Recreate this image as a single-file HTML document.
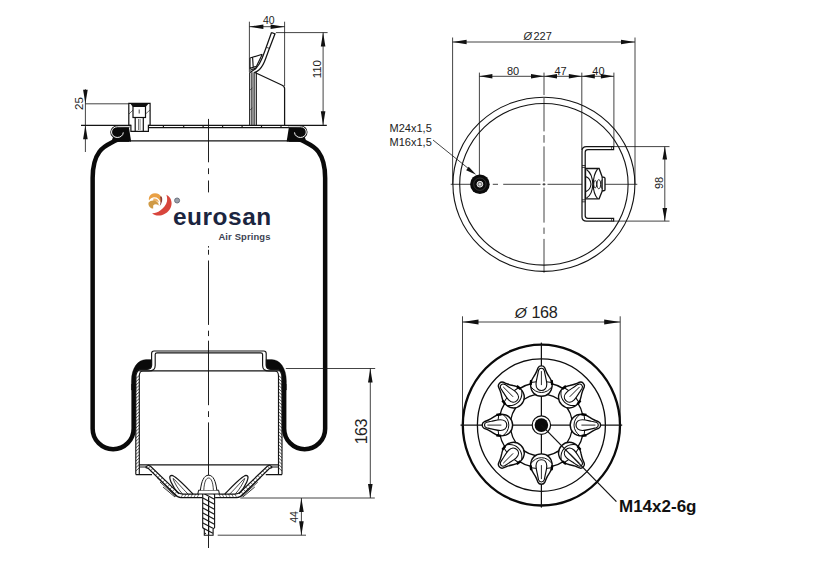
<!DOCTYPE html>
<html><head><meta charset="utf-8"><title>Air spring drawing</title>
<style>
html,body{margin:0;padding:0;background:#fff;}
svg{display:block;font-family:"Liberation Sans",sans-serif;}
</style></head><body>
<svg width="839" height="577" viewBox="0 0 839 577">
<rect width="839" height="577" fill="#fff"/>
<line x1="208.50" y1="118.90" x2="208.50" y2="162.30" stroke="#141414" stroke-width="0.95" />
<line x1="208.50" y1="168.30" x2="208.50" y2="174.10" stroke="#141414" stroke-width="0.95" />
<line x1="208.50" y1="180.50" x2="208.50" y2="192.40" stroke="#141414" stroke-width="0.95" />
<line x1="208.50" y1="246.10" x2="208.50" y2="247.60" stroke="#141414" stroke-width="0.95" />
<line x1="208.50" y1="249.80" x2="208.50" y2="254.70" stroke="#141414" stroke-width="0.95" />
<line x1="208.50" y1="260.50" x2="208.50" y2="324.90" stroke="#141414" stroke-width="0.95" />
<line x1="208.50" y1="330.70" x2="208.50" y2="336.10" stroke="#141414" stroke-width="0.95" />
<line x1="208.50" y1="340.70" x2="208.50" y2="405.20" stroke="#141414" stroke-width="0.95" />
<line x1="208.50" y1="411.20" x2="208.50" y2="417.00" stroke="#141414" stroke-width="0.95" />
<line x1="208.50" y1="422.40" x2="208.50" y2="548.00" stroke="#141414" stroke-width="0.95" />
<path d="M 129.00 139.6 L 122.00 139.6 C 119.00 139.6 117.00 139.3 114.70 140.9 C 109.60 144.6 92.65 146.5 92.65 178 L 92.65 428.65 A 20.5 20.5 0 0 0 133.65 428.65 L 133.65 384" stroke="#0a0a0a" stroke-width="4.5" fill="none" />
<path d="M 131.40 390 L 131.40 381 C 131.40 368 138.00 359.6 146.00 359.6 L 151.80 359.6 L 151.80 365.5 C 151.50 368.5 149.00 369.3 146.00 369.3 L 142.00 369.3 C 138.00 369.3 135.90 372 135.90 377 L 135.90 390 L 131.40 390 Z" stroke="#0a0a0a" stroke-width="0.3" fill="#0a0a0a" />
<path d="M 288.80 139.6 L 295.80 139.6 C 298.80 139.6 300.80 139.3 303.10 140.9 C 308.20 144.6 325.15 146.5 325.15 178 L 325.15 428.65 A 20.5 20.5 0 0 1 284.15 428.65 L 284.15 384" stroke="#0a0a0a" stroke-width="4.5" fill="none" />
<path d="M 286.40 390 L 286.40 381 C 286.40 368 279.80 359.6 271.80 359.6 L 266.00 359.6 L 266.00 365.5 C 266.30 368.5 268.80 369.3 271.80 369.3 L 275.80 369.3 C 279.80 369.3 281.90 372 281.90 377 L 281.90 390 L 286.40 390 Z" stroke="#0a0a0a" stroke-width="0.3" fill="#0a0a0a" />
<line x1="130.50" y1="140.90" x2="287.30" y2="140.90" stroke="#141414" stroke-width="1.35" />
<line x1="81.00" y1="125.30" x2="128.80" y2="125.30" stroke="#141414" stroke-width="1.15" />
<line x1="150.10" y1="125.30" x2="326.80" y2="125.30" stroke="#141414" stroke-width="1.25" />
<line x1="148.40" y1="127.60" x2="296.80" y2="127.60" stroke="#141414" stroke-width="1.15" />
<line x1="163.40" y1="125.30" x2="163.40" y2="127.60" stroke="#141414" stroke-width="1.15" />
<line x1="183.70" y1="125.30" x2="183.70" y2="127.60" stroke="#141414" stroke-width="1.15" />
<line x1="203.10" y1="125.30" x2="203.10" y2="127.60" stroke="#141414" stroke-width="1.15" />
<line x1="222.60" y1="125.30" x2="222.60" y2="127.60" stroke="#141414" stroke-width="1.15" />
<line x1="242.10" y1="125.30" x2="242.10" y2="127.60" stroke="#141414" stroke-width="1.15" />
<line x1="261.50" y1="125.30" x2="261.50" y2="127.60" stroke="#141414" stroke-width="1.15" />
<line x1="281.00" y1="125.30" x2="281.00" y2="127.60" stroke="#141414" stroke-width="1.15" />
<line x1="300.00" y1="125.30" x2="300.00" y2="127.60" stroke="#141414" stroke-width="1.15" />
<polygon points="117.00,126.6 128.90,127.2 131.00,140.5 131.00,141.7 111.50,141.7 113.00,137" fill="#0a0a0a"/>
<ellipse cx="117.40" cy="132.1" rx="6.2" ry="5.8" fill="#0a0a0a"/>
<path d="M 129.50 126.6 L 117.40 126.7 A 5.9 5.4 0 1 0 123.30 132.4" stroke="#111" stroke-width="2.5" fill="none" />
<path d="M 129.50 126.6 L 117.40 126.7 A 5.9 5.4 0 1 0 123.30 132.4" stroke="#fff" stroke-width="0.95" fill="none" />
<polygon points="300.80,126.6 288.90,127.2 286.80,140.5 286.80,141.7 306.30,141.7 304.80,137" fill="#0a0a0a"/>
<ellipse cx="300.40" cy="132.1" rx="6.2" ry="5.8" fill="#0a0a0a"/>
<path d="M 288.30 126.6 L 300.40 126.7 A 5.9 5.4 0 1 1 294.50 132.4" stroke="#111" stroke-width="2.5" fill="none" />
<path d="M 288.30 126.6 L 300.40 126.7 A 5.9 5.4 0 1 1 294.50 132.4" stroke="#fff" stroke-width="0.95" fill="none" />
<path d="M 128.8 125.4 L 128.8 103.4 L 150.1 103.4 L 150.1 125.4 L 148.4 125.4 L 148.4 131.3 L 130.9 131.3 L 130.9 125.4 Z" fill="#fff" stroke="#111" stroke-width="1.2"/>
<polygon points="130.2,103.4 148.8,103.4 146,106.6 132.6,106.6" fill="#111"/>
<rect x="133" y="106.4" width="12.5" height="11.1" fill="#fff" stroke="#111" stroke-width="1.2"/>
<line x1="135.20" y1="117.50" x2="135.20" y2="131.30" stroke="#111" stroke-width="1.2" />
<line x1="143.30" y1="117.50" x2="143.30" y2="131.30" stroke="#111" stroke-width="1.2" />
<line x1="139.20" y1="109.50" x2="139.20" y2="113.50" stroke="#141414" stroke-width="0.8" />
<line x1="138.70" y1="119.00" x2="138.70" y2="130.00" stroke="#666" stroke-width="1.15" />
<line x1="140.30" y1="119.00" x2="140.30" y2="130.00" stroke="#888" stroke-width="0.7" />
<line x1="129.00" y1="114.00" x2="133.00" y2="110.00" stroke="#141414" stroke-width="0.6" />
<line x1="145.50" y1="114.00" x2="150.00" y2="110.00" stroke="#141414" stroke-width="0.6" />
<line x1="128.80" y1="125.40" x2="131.00" y2="125.40" stroke="#141414" stroke-width="1.25" />
<line x1="148.40" y1="125.40" x2="150.10" y2="125.40" stroke="#141414" stroke-width="1.25" />
<line x1="249.70" y1="72.30" x2="249.70" y2="125.30" stroke="#141414" stroke-width="1.15" />
<line x1="251.90" y1="72.30" x2="251.90" y2="125.30" stroke="#141414" stroke-width="1.15" />
<line x1="254.10" y1="72.30" x2="254.10" y2="125.30" stroke="#141414" stroke-width="1.15" />
<line x1="256.30" y1="72.30" x2="256.30" y2="125.30" stroke="#141414" stroke-width="1.15" />
<line x1="250.00" y1="90.00" x2="252.40" y2="88.00" stroke="#141414" stroke-width="0.6" />
<line x1="250.00" y1="110.00" x2="252.40" y2="108.00" stroke="#141414" stroke-width="0.6" />
<path d="M 271.5 32.5 L 275 33.8 L 268.8 50 L 265.6 58.8 C 264 63.3 262 67 259.5 69.5 C 257.5 71.4 255.6 72.2 254.4 72.5 M 271.5 32.5 L 265.5 49.2 L 262.2 58 C 260.4 62.4 258.4 65.8 256 68.2 C 254 70.2 251.6 71 250 72.6" stroke="#141414" stroke-width="1.25" fill="none" />
<line x1="266.30" y1="47.30" x2="269.60" y2="48.40" stroke="#141414" stroke-width="0.8" />
<path d="M 250 58 L 262.3 54.3 M 250 58 L 250 68.4 L 256.8 66.2 M 252.6 57.4 L 253.2 67.3 M 262.3 54.3 L 256.5 66.2 M 250 70.3 L 256 68" stroke="#141414" stroke-width="1.15" fill="none" />
<path d="M 254.4 72.2 L 281.7 85 Q 284.6 86.3 284.6 88.5 L 284.6 125.3" stroke="#141414" stroke-width="1.25" fill="none" />
<line x1="249.40" y1="21.70" x2="249.40" y2="72.00" stroke="#141414" stroke-width="0.8" />
<line x1="284.60" y1="21.70" x2="284.60" y2="86.00" stroke="#141414" stroke-width="0.8" />
<line x1="249.40" y1="26.70" x2="284.60" y2="26.70" stroke="#141414" stroke-width="0.8" />
<polygon points="249.40,26.70 263.40,24.40 263.40,29.00" fill="#111"/>
<polygon points="284.60,26.70 270.60,29.00 270.60,24.40" fill="#111"/>
<text x="268.80" y="24.30" font-size="10.5" text-anchor="middle" font-weight="normal" fill="#222" >40</text>
<line x1="275.90" y1="32.60" x2="327.60" y2="32.60" stroke="#141414" stroke-width="0.8" />
<line x1="323.10" y1="32.60" x2="323.10" y2="125.30" stroke="#141414" stroke-width="0.8" />
<polygon points="323.10,32.60 325.40,46.60 320.80,46.60" fill="#111"/>
<polygon points="323.10,125.30 320.80,111.30 325.40,111.30" fill="#111"/>
<text x="321.00" y="69.20" font-size="11.5" text-anchor="middle" font-weight="normal" fill="#222" transform="rotate(-90 321.00 69.20)" >110</text>
<line x1="85.40" y1="103.80" x2="128.80" y2="103.80" stroke="#141414" stroke-width="0.8" />
<line x1="85.40" y1="89.20" x2="85.40" y2="125.30" stroke="#141414" stroke-width="0.8" />
<line x1="85.40" y1="125.30" x2="85.40" y2="152.00" stroke="#141414" stroke-width="0.8" />
<polygon points="85.40,103.80 83.10,89.80 87.70,89.80" fill="#111"/>
<polygon points="85.40,125.30 87.70,139.30 83.10,139.30" fill="#111"/>
<text x="82.80" y="103.50" font-size="11.5" text-anchor="middle" font-weight="normal" fill="#222" transform="rotate(-90 82.80 103.50)" >25</text>
<path d="M 135.80 474.6 L 135.80 378 C 135.80 372 138.00 369.3 142.00 369.3 L 147.00 369.3 C 150.50 369.3 151.60 368 151.60 365 L 151.60 353.5 Q 151.60 351 154.00 351 L 208.9 351" stroke="#141414" stroke-width="1.15" fill="none" />
<path d="M 139.30 474.6 L 139.30 376 C 139.30 372.5 140.50 371 143.00 371 L 149.00 371 C 153.50 371 155.20 369 155.20 365.5 L 155.20 354.5 Q 155.20 352.9 157.00 352.9 L 208.9 352.9" stroke="#141414" stroke-width="1.15" fill="none" />
<line x1="135.80" y1="378.60" x2="139.30" y2="375.40" stroke="#141414" stroke-width="0.7" />
<line x1="135.80" y1="381.90" x2="139.30" y2="378.70" stroke="#141414" stroke-width="0.7" />
<line x1="135.80" y1="385.20" x2="139.30" y2="382.00" stroke="#141414" stroke-width="0.7" />
<line x1="135.80" y1="388.50" x2="139.30" y2="385.30" stroke="#141414" stroke-width="0.7" />
<line x1="135.80" y1="391.80" x2="139.30" y2="388.60" stroke="#141414" stroke-width="0.7" />
<line x1="135.80" y1="395.10" x2="139.30" y2="391.90" stroke="#141414" stroke-width="0.7" />
<line x1="135.80" y1="398.40" x2="139.30" y2="395.20" stroke="#141414" stroke-width="0.7" />
<line x1="135.80" y1="401.70" x2="139.30" y2="398.50" stroke="#141414" stroke-width="0.7" />
<line x1="135.80" y1="405.00" x2="139.30" y2="401.80" stroke="#141414" stroke-width="0.7" />
<line x1="135.80" y1="408.30" x2="139.30" y2="405.10" stroke="#141414" stroke-width="0.7" />
<line x1="135.80" y1="411.60" x2="139.30" y2="408.40" stroke="#141414" stroke-width="0.7" />
<line x1="135.80" y1="414.90" x2="139.30" y2="411.70" stroke="#141414" stroke-width="0.7" />
<line x1="135.80" y1="418.20" x2="139.30" y2="415.00" stroke="#141414" stroke-width="0.7" />
<line x1="135.80" y1="421.50" x2="139.30" y2="418.30" stroke="#141414" stroke-width="0.7" />
<line x1="135.80" y1="424.80" x2="139.30" y2="421.60" stroke="#141414" stroke-width="0.7" />
<line x1="135.80" y1="428.10" x2="139.30" y2="424.90" stroke="#141414" stroke-width="0.7" />
<line x1="135.80" y1="431.40" x2="139.30" y2="428.20" stroke="#141414" stroke-width="0.7" />
<line x1="135.80" y1="434.70" x2="139.30" y2="431.50" stroke="#141414" stroke-width="0.7" />
<line x1="135.80" y1="438.00" x2="139.30" y2="434.80" stroke="#141414" stroke-width="0.7" />
<line x1="135.80" y1="441.30" x2="139.30" y2="438.10" stroke="#141414" stroke-width="0.7" />
<line x1="135.80" y1="444.60" x2="139.30" y2="441.40" stroke="#141414" stroke-width="0.7" />
<line x1="135.80" y1="447.90" x2="139.30" y2="444.70" stroke="#141414" stroke-width="0.7" />
<line x1="135.80" y1="451.20" x2="139.30" y2="448.00" stroke="#141414" stroke-width="0.7" />
<line x1="135.80" y1="454.50" x2="139.30" y2="451.30" stroke="#141414" stroke-width="0.7" />
<line x1="135.80" y1="457.80" x2="139.30" y2="454.60" stroke="#141414" stroke-width="0.7" />
<line x1="135.80" y1="461.10" x2="139.30" y2="457.90" stroke="#141414" stroke-width="0.7" />
<line x1="135.80" y1="464.40" x2="139.30" y2="461.20" stroke="#141414" stroke-width="0.7" />
<line x1="135.80" y1="467.70" x2="139.30" y2="464.50" stroke="#141414" stroke-width="0.7" />
<line x1="135.80" y1="471.00" x2="139.30" y2="467.80" stroke="#141414" stroke-width="0.7" />
<path d="M 135.80 474.6 L 152.00 474.6 M 139.30 467 L 145.50 467 L 148.00 465.6" stroke="#141414" stroke-width="1.15" fill="none" />
<path d="M 148.00 465.2 L 150.50 466.2 L 177.00 491.6 Q 179.50 494 183.00 494 L 199.00 494" stroke="#141414" stroke-width="1.25" fill="none" />
<path d="M 145.50 467.3 L 148.20 468.3 L 174.50 494 Q 177.50 497.6 181.00 497.6 L 202.70 497.6" stroke="#141414" stroke-width="1.25" fill="none" />
<line x1="150.50" y1="466.20" x2="148.10" y2="468.40" stroke="#141414" stroke-width="0.6" />
<line x1="152.91" y1="468.51" x2="150.51" y2="470.71" stroke="#141414" stroke-width="0.6" />
<line x1="155.32" y1="470.82" x2="152.92" y2="473.02" stroke="#141414" stroke-width="0.6" />
<line x1="157.73" y1="473.13" x2="155.33" y2="475.33" stroke="#141414" stroke-width="0.6" />
<line x1="160.14" y1="475.44" x2="157.74" y2="477.64" stroke="#141414" stroke-width="0.6" />
<line x1="162.55" y1="477.75" x2="160.15" y2="479.95" stroke="#141414" stroke-width="0.6" />
<line x1="164.95" y1="480.05" x2="162.55" y2="482.25" stroke="#141414" stroke-width="0.6" />
<line x1="167.36" y1="482.36" x2="164.96" y2="484.56" stroke="#141414" stroke-width="0.6" />
<line x1="169.77" y1="484.67" x2="167.37" y2="486.87" stroke="#141414" stroke-width="0.6" />
<line x1="172.18" y1="486.98" x2="169.78" y2="489.18" stroke="#141414" stroke-width="0.6" />
<line x1="174.59" y1="489.29" x2="172.19" y2="491.49" stroke="#141414" stroke-width="0.6" />
<line x1="177.00" y1="491.60" x2="174.60" y2="493.80" stroke="#141414" stroke-width="0.6" />
<line x1="183.00" y1="494.00" x2="181.00" y2="497.60" stroke="#141414" stroke-width="0.6" />
<line x1="186.20" y1="494.00" x2="184.20" y2="497.60" stroke="#141414" stroke-width="0.6" />
<line x1="189.40" y1="494.00" x2="187.40" y2="497.60" stroke="#141414" stroke-width="0.6" />
<line x1="192.60" y1="494.00" x2="190.60" y2="497.60" stroke="#141414" stroke-width="0.6" />
<line x1="195.80" y1="494.00" x2="193.80" y2="497.60" stroke="#141414" stroke-width="0.6" />
<line x1="199.00" y1="494.00" x2="197.00" y2="497.60" stroke="#141414" stroke-width="0.6" />
<path d="M 160.00 482 L 176.00 496.5 M 163.00 487 L 175.00 497 M 157.00 477.5 L 176.50 495.5" stroke="#141414" stroke-width="0.85" fill="none" />
<path d="M 193.00 494 C 186.00 487 176.00 476 171.80 475.4 C 169.00 475.4 169.50 478.5 171.00 482 C 173.00 486.5 176.00 491 178.80 493.8" stroke="#141414" stroke-width="1.25" fill="none" />
<path d="M 188.00 494 C 182.00 488 176.00 481 173.30 478.3 M 173.00 478.5 C 174.50 483 178.00 489 182.30 493.8" stroke="#141414" stroke-width="0.8" fill="none" />
<path d="M 282.00 474.6 L 282.00 378 C 282.00 372 279.80 369.3 275.80 369.3 L 270.80 369.3 C 267.30 369.3 266.20 368 266.20 365 L 266.20 353.5 Q 266.20 351 263.80 351 L 208.9 351" stroke="#141414" stroke-width="1.15" fill="none" />
<path d="M 278.50 474.6 L 278.50 376 C 278.50 372.5 277.30 371 274.80 371 L 268.80 371 C 264.30 371 262.60 369 262.60 365.5 L 262.60 354.5 Q 262.60 352.9 260.80 352.9 L 208.9 352.9" stroke="#141414" stroke-width="1.15" fill="none" />
<line x1="282.00" y1="378.60" x2="278.50" y2="375.40" stroke="#141414" stroke-width="0.7" />
<line x1="282.00" y1="381.90" x2="278.50" y2="378.70" stroke="#141414" stroke-width="0.7" />
<line x1="282.00" y1="385.20" x2="278.50" y2="382.00" stroke="#141414" stroke-width="0.7" />
<line x1="282.00" y1="388.50" x2="278.50" y2="385.30" stroke="#141414" stroke-width="0.7" />
<line x1="282.00" y1="391.80" x2="278.50" y2="388.60" stroke="#141414" stroke-width="0.7" />
<line x1="282.00" y1="395.10" x2="278.50" y2="391.90" stroke="#141414" stroke-width="0.7" />
<line x1="282.00" y1="398.40" x2="278.50" y2="395.20" stroke="#141414" stroke-width="0.7" />
<line x1="282.00" y1="401.70" x2="278.50" y2="398.50" stroke="#141414" stroke-width="0.7" />
<line x1="282.00" y1="405.00" x2="278.50" y2="401.80" stroke="#141414" stroke-width="0.7" />
<line x1="282.00" y1="408.30" x2="278.50" y2="405.10" stroke="#141414" stroke-width="0.7" />
<line x1="282.00" y1="411.60" x2="278.50" y2="408.40" stroke="#141414" stroke-width="0.7" />
<line x1="282.00" y1="414.90" x2="278.50" y2="411.70" stroke="#141414" stroke-width="0.7" />
<line x1="282.00" y1="418.20" x2="278.50" y2="415.00" stroke="#141414" stroke-width="0.7" />
<line x1="282.00" y1="421.50" x2="278.50" y2="418.30" stroke="#141414" stroke-width="0.7" />
<line x1="282.00" y1="424.80" x2="278.50" y2="421.60" stroke="#141414" stroke-width="0.7" />
<line x1="282.00" y1="428.10" x2="278.50" y2="424.90" stroke="#141414" stroke-width="0.7" />
<line x1="282.00" y1="431.40" x2="278.50" y2="428.20" stroke="#141414" stroke-width="0.7" />
<line x1="282.00" y1="434.70" x2="278.50" y2="431.50" stroke="#141414" stroke-width="0.7" />
<line x1="282.00" y1="438.00" x2="278.50" y2="434.80" stroke="#141414" stroke-width="0.7" />
<line x1="282.00" y1="441.30" x2="278.50" y2="438.10" stroke="#141414" stroke-width="0.7" />
<line x1="282.00" y1="444.60" x2="278.50" y2="441.40" stroke="#141414" stroke-width="0.7" />
<line x1="282.00" y1="447.90" x2="278.50" y2="444.70" stroke="#141414" stroke-width="0.7" />
<line x1="282.00" y1="451.20" x2="278.50" y2="448.00" stroke="#141414" stroke-width="0.7" />
<line x1="282.00" y1="454.50" x2="278.50" y2="451.30" stroke="#141414" stroke-width="0.7" />
<line x1="282.00" y1="457.80" x2="278.50" y2="454.60" stroke="#141414" stroke-width="0.7" />
<line x1="282.00" y1="461.10" x2="278.50" y2="457.90" stroke="#141414" stroke-width="0.7" />
<line x1="282.00" y1="464.40" x2="278.50" y2="461.20" stroke="#141414" stroke-width="0.7" />
<line x1="282.00" y1="467.70" x2="278.50" y2="464.50" stroke="#141414" stroke-width="0.7" />
<line x1="282.00" y1="471.00" x2="278.50" y2="467.80" stroke="#141414" stroke-width="0.7" />
<path d="M 282.00 474.6 L 265.80 474.6 M 278.50 467 L 272.30 467 L 269.80 465.6" stroke="#141414" stroke-width="1.15" fill="none" />
<path d="M 269.80 465.2 L 267.30 466.2 L 240.80 491.6 Q 238.30 494 234.80 494 L 218.80 494" stroke="#141414" stroke-width="1.25" fill="none" />
<path d="M 272.30 467.3 L 269.60 468.3 L 243.30 494 Q 240.30 497.6 236.80 497.6 L 215.10 497.6" stroke="#141414" stroke-width="1.25" fill="none" />
<line x1="267.30" y1="466.20" x2="269.70" y2="468.40" stroke="#141414" stroke-width="0.6" />
<line x1="264.89" y1="468.51" x2="267.29" y2="470.71" stroke="#141414" stroke-width="0.6" />
<line x1="262.48" y1="470.82" x2="264.88" y2="473.02" stroke="#141414" stroke-width="0.6" />
<line x1="260.07" y1="473.13" x2="262.47" y2="475.33" stroke="#141414" stroke-width="0.6" />
<line x1="257.66" y1="475.44" x2="260.06" y2="477.64" stroke="#141414" stroke-width="0.6" />
<line x1="255.25" y1="477.75" x2="257.65" y2="479.95" stroke="#141414" stroke-width="0.6" />
<line x1="252.85" y1="480.05" x2="255.25" y2="482.25" stroke="#141414" stroke-width="0.6" />
<line x1="250.44" y1="482.36" x2="252.84" y2="484.56" stroke="#141414" stroke-width="0.6" />
<line x1="248.03" y1="484.67" x2="250.43" y2="486.87" stroke="#141414" stroke-width="0.6" />
<line x1="245.62" y1="486.98" x2="248.02" y2="489.18" stroke="#141414" stroke-width="0.6" />
<line x1="243.21" y1="489.29" x2="245.61" y2="491.49" stroke="#141414" stroke-width="0.6" />
<line x1="240.80" y1="491.60" x2="243.20" y2="493.80" stroke="#141414" stroke-width="0.6" />
<line x1="234.80" y1="494.00" x2="236.80" y2="497.60" stroke="#141414" stroke-width="0.6" />
<line x1="231.60" y1="494.00" x2="233.60" y2="497.60" stroke="#141414" stroke-width="0.6" />
<line x1="228.40" y1="494.00" x2="230.40" y2="497.60" stroke="#141414" stroke-width="0.6" />
<line x1="225.20" y1="494.00" x2="227.20" y2="497.60" stroke="#141414" stroke-width="0.6" />
<line x1="222.00" y1="494.00" x2="224.00" y2="497.60" stroke="#141414" stroke-width="0.6" />
<line x1="218.80" y1="494.00" x2="220.80" y2="497.60" stroke="#141414" stroke-width="0.6" />
<path d="M 257.80 482 L 241.80 496.5 M 254.80 487 L 242.80 497 M 260.80 477.5 L 241.30 495.5" stroke="#141414" stroke-width="0.85" fill="none" />
<path d="M 224.80 494 C 231.80 487 241.80 476 246.00 475.4 C 248.80 475.4 248.30 478.5 246.80 482 C 244.80 486.5 241.80 491 239.00 493.8" stroke="#141414" stroke-width="1.25" fill="none" />
<path d="M 229.80 494 C 235.80 488 241.80 481 244.50 478.3 M 244.80 478.5 C 243.30 483 239.80 489 235.50 493.8" stroke="#141414" stroke-width="0.8" fill="none" />
<line x1="139.30" y1="464.80" x2="278.50" y2="464.80" stroke="#141414" stroke-width="1.15" />
<line x1="139.30" y1="370.90" x2="278.50" y2="370.90" stroke="#141414" stroke-width="1.15" />
<path d="M 202.7 492.4 L 202.7 527.6 L 204.3 529 L 204.3 535.2 L 213.1 535.2 L 213.1 529 L 214.6 527.6 L 214.6 492.4 Z" fill="#fff" stroke="#111" stroke-width="1.1"/>
<line x1="212.34" y1="493.00" x2="214.40" y2="494.30" stroke="#1a1a1a" stroke-width="1.25" />
<line x1="202.90" y1="493.00" x2="214.40" y2="499.30" stroke="#1a1a1a" stroke-width="1.25" />
<line x1="202.90" y1="498.00" x2="214.40" y2="504.30" stroke="#1a1a1a" stroke-width="1.25" />
<line x1="202.90" y1="503.00" x2="214.40" y2="509.30" stroke="#1a1a1a" stroke-width="1.25" />
<line x1="202.90" y1="508.00" x2="214.40" y2="514.30" stroke="#1a1a1a" stroke-width="1.25" />
<line x1="202.90" y1="513.00" x2="214.40" y2="519.30" stroke="#1a1a1a" stroke-width="1.25" />
<line x1="202.90" y1="518.00" x2="214.40" y2="524.30" stroke="#1a1a1a" stroke-width="1.25" />
<line x1="202.90" y1="523.00" x2="212.90" y2="528.29" stroke="#1a1a1a" stroke-width="1.25" />
<line x1="202.90" y1="528.00" x2="212.90" y2="533.29" stroke="#1a1a1a" stroke-width="1.25" />
<line x1="204.50" y1="533.00" x2="205.90" y2="533.74" stroke="#1a1a1a" stroke-width="1.25" />
<line x1="208.60" y1="497.00" x2="208.60" y2="535.00" stroke="#111" stroke-width="1.25" />
<path d="M 197.8 494 L 198.6 490.2 L 218.6 490.2 L 219.4 494 Z" fill="#fff" stroke="#111" stroke-width="1.0"/>
<path d="M 200.4 490.2 C 201.5 481 204 475.2 208.6 475.2 C 213.2 475.2 215.8 481 216.8 490.2" fill="#fff" stroke="#111" stroke-width="1.0"/>
<path d="M 203.8 490.2 C 204.2 482 206 478 208.6 478 C 211.2 478 213 482 213.4 490.2" stroke="#141414" stroke-width="0.8" fill="none" />
<line x1="285.80" y1="368.50" x2="375.20" y2="368.50" stroke="#141414" stroke-width="0.8" />
<line x1="240.30" y1="498.00" x2="374.80" y2="498.00" stroke="#141414" stroke-width="0.8" />
<line x1="370.30" y1="368.50" x2="370.30" y2="498.00" stroke="#141414" stroke-width="0.8" />
<polygon points="370.30,368.50 372.60,382.50 368.00,382.50" fill="#111"/>
<polygon points="370.30,498.00 368.00,484.00 372.60,484.00" fill="#111"/>
<text x="367.50" y="431.70" font-size="16" text-anchor="middle" font-weight="normal" fill="#222" transform="rotate(-90 367.50 431.70)" letter-spacing="-0.5" >163</text>
<line x1="217.70" y1="535.20" x2="306.00" y2="535.20" stroke="#141414" stroke-width="0.8" />
<line x1="301.40" y1="498.00" x2="301.40" y2="535.20" stroke="#141414" stroke-width="0.8" />
<polygon points="301.40,498.00 303.70,512.00 299.10,512.00" fill="#111"/>
<polygon points="301.40,535.20 299.10,521.20 303.70,521.20" fill="#111"/>
<text x="298.30" y="517.00" font-size="10.5" text-anchor="middle" font-weight="normal" fill="#222" transform="rotate(-90 298.30 517.00)" >44</text>
<g id="logo"><path d="M 151 194.4 C 155 192.2 160 193.6 161.6 197.6 C 162.2 199.6 161.6 201.4 160.4 202.2 C 159.8 198.8 156.6 196.6 153 197.4 C 151 197.9 149.6 199.2 149 200.6 C 148.4 198.2 149.2 195.6 151 194.4 Z" fill="#e9a044"/><path d="M 153.4 198.6 C 156.2 198 158.6 199.8 159 202.4 C 157.4 201.2 155 201 153.2 201.6 Z" fill="#eeb368"/><path d="M 148.6 202.4 C 150.2 200.4 153.6 199.8 156.2 201.2 C 158.2 202.3 159 204 158.6 205.6 C 157 204 154.6 204 153.2 205.4 L 153.2 208.6 C 149.8 208.2 147.8 205.2 148.6 202.4 Z" fill="#cf9a45"/><path d="M 161.6 196.4 C 163 199.4 162.2 203 159.6 206.2 C 160.8 203.2 161 199.6 160 196.8 Z" fill="#8c3b3b"/><path d="M 166.4 194.8 C 169.6 196.4 171.8 199.8 171.6 203.8 C 171.2 209.4 167 213.8 161.6 215.2 C 157.8 216 154.2 215.2 152 213.2 C 154.6 213.4 157.6 212.6 160.2 210.6 C 163.6 208 166.4 204.8 167 201.2 C 167.4 198.8 167 196.6 166.4 194.8 Z" fill="#d8453c"/><circle cx="177.1" cy="200.5" r="2.5" fill="#9aa0aa" stroke="#6b7280" stroke-width="1.0"/></g>
<text x="173.00" y="225.40" font-size="24.4" text-anchor="start" font-weight="bold" fill="#1b2540" letter-spacing="0.55" >eurosan</text>
<text x="270.60" y="240.10" font-size="9.4" text-anchor="end" font-weight="bold" fill="#3b4252" letter-spacing="0.15" >Air Springs</text>
<ellipse cx="543.9" cy="184.3" rx="91.0" ry="87.1" fill="none" stroke="#141414" stroke-width="1.1"/>
<ellipse cx="543.9" cy="184.3" rx="84.2" ry="80.8" fill="none" stroke="#141414" stroke-width="1.1"/>
<line x1="450.70" y1="184.30" x2="470.00" y2="184.30" stroke="#141414" stroke-width="0.8" />
<line x1="492.80" y1="184.30" x2="498.00" y2="184.30" stroke="#141414" stroke-width="0.8" />
<line x1="503.20" y1="184.30" x2="540.50" y2="184.30" stroke="#141414" stroke-width="0.8" />
<line x1="542.50" y1="184.30" x2="545.50" y2="184.30" stroke="#141414" stroke-width="0.8" />
<line x1="547.50" y1="184.30" x2="637.30" y2="184.30" stroke="#141414" stroke-width="0.8" />
<line x1="544.00" y1="72.60" x2="544.00" y2="95.10" stroke="#141414" stroke-width="0.8" />
<line x1="544.00" y1="98.00" x2="544.00" y2="131.40" stroke="#141414" stroke-width="0.8" />
<line x1="544.00" y1="135.10" x2="544.00" y2="142.70" stroke="#141414" stroke-width="0.8" />
<line x1="544.00" y1="146.40" x2="544.00" y2="181.50" stroke="#141414" stroke-width="0.8" />
<line x1="544.00" y1="183.00" x2="544.00" y2="185.60" stroke="#141414" stroke-width="0.8" />
<line x1="544.00" y1="187.60" x2="544.00" y2="222.60" stroke="#141414" stroke-width="0.8" />
<line x1="544.00" y1="227.60" x2="544.00" y2="233.90" stroke="#141414" stroke-width="0.8" />
<line x1="544.00" y1="238.90" x2="544.00" y2="272.70" stroke="#141414" stroke-width="0.8" />
<line x1="452.60" y1="37.50" x2="452.60" y2="184.30" stroke="#141414" stroke-width="0.8" />
<line x1="635.00" y1="37.50" x2="635.00" y2="184.30" stroke="#141414" stroke-width="0.8" />
<line x1="452.60" y1="42.00" x2="635.00" y2="42.00" stroke="#141414" stroke-width="0.8" />
<polygon points="452.60,42.00 466.60,39.70 466.60,44.30" fill="#111"/>
<polygon points="635.00,42.00 621.00,44.30 621.00,39.70" fill="#111"/>
<text x="523.60" y="40.00" font-size="11" text-anchor="start" font-weight="normal" fill="#222" font-style="italic">Ø</text>
<text x="533.40" y="40.00" font-size="11" text-anchor="start" font-weight="normal" fill="#222" >227</text>
<line x1="479.40" y1="72.60" x2="479.40" y2="175.00" stroke="#141414" stroke-width="0.8" />
<line x1="581.80" y1="72.60" x2="581.80" y2="150.00" stroke="#141414" stroke-width="0.8" />
<line x1="613.90" y1="72.60" x2="613.90" y2="146.40" stroke="#141414" stroke-width="0.8" />
<line x1="479.40" y1="76.30" x2="613.90" y2="76.30" stroke="#141414" stroke-width="0.8" />
<polygon points="479.40,76.30 492.40,74.00 492.40,78.60" fill="#111"/>
<polygon points="544.00,76.30 531.00,78.60 531.00,74.00" fill="#111"/>
<polygon points="544.00,76.30 557.00,74.00 557.00,78.60" fill="#111"/>
<polygon points="581.80,76.30 568.80,78.60 568.80,74.00" fill="#111"/>
<polygon points="581.80,76.30 594.80,74.00 594.80,78.60" fill="#111"/>
<polygon points="613.90,76.30 600.90,78.60 600.90,74.00" fill="#111"/>
<text x="513.00" y="74.60" font-size="11" text-anchor="middle" font-weight="normal" fill="#222" >80</text>
<text x="560.60" y="74.60" font-size="11" text-anchor="middle" font-weight="normal" fill="#222" >47</text>
<text x="598.40" y="74.60" font-size="11" text-anchor="middle" font-weight="normal" fill="#222" >40</text>
<line x1="613.50" y1="146.60" x2="669.50" y2="146.60" stroke="#141414" stroke-width="0.8" />
<line x1="613.50" y1="221.10" x2="669.50" y2="221.10" stroke="#141414" stroke-width="0.8" />
<line x1="664.80" y1="146.60" x2="664.80" y2="221.10" stroke="#141414" stroke-width="0.8" />
<polygon points="664.80,146.60 667.10,159.60 662.50,159.60" fill="#111"/>
<polygon points="664.80,221.10 662.50,208.10 667.10,208.10" fill="#111"/>
<text x="663.10" y="182.90" font-size="11" text-anchor="middle" font-weight="normal" fill="#222" transform="rotate(-90 663.10 182.90)" >98</text>
<text x="389.60" y="132.10" font-size="11" text-anchor="start" font-weight="normal" fill="#222" >M24x1,5</text>
<text x="389.60" y="146.40" font-size="11" text-anchor="start" font-weight="normal" fill="#222" >M16x1,5</text>
<line x1="433.00" y1="140.00" x2="470.00" y2="169.80" stroke="#141414" stroke-width="0.8" />
<polygon points="476.20,174.80 466.12,170.30 468.68,166.71" fill="#111"/>
<circle cx="479.9" cy="184.2" r="9.8" fill="#0a0a0a"/>
<circle cx="479.9" cy="184.2" r="6.2" fill="none" stroke="#444" stroke-width="0.7"/>
<circle cx="479.9" cy="184.2" r="2.9" fill="#777" stroke="#e8e8e8" stroke-width="1.0"/>
<circle cx="479.9" cy="184.2" r="1.2" fill="#ddd"/>
<path d="M 613.6 146.7 L 586.5 146.7 Q 582 146.7 582 151 L 582 217 Q 582 221.1 586.5 221.1 L 613.6 221.1 L 613.6 218.3 L 588 218.3 Q 585.2 218.3 585.2 215.5 L 585.2 152.3 Q 585.2 149.6 588 149.6 L 613.6 149.6 Z" stroke="#141414" stroke-width="1.25" fill="#fff" />
<line x1="611.60" y1="146.70" x2="611.60" y2="149.60" stroke="#141414" stroke-width="0.7" />
<line x1="611.60" y1="218.30" x2="611.60" y2="221.10" stroke="#141414" stroke-width="0.7" />
<line x1="582.00" y1="165.50" x2="585.40" y2="165.50" stroke="#141414" stroke-width="0.8" />
<line x1="582.00" y1="167.40" x2="585.40" y2="167.40" stroke="#141414" stroke-width="0.8" />
<line x1="582.00" y1="199.80" x2="585.40" y2="199.80" stroke="#141414" stroke-width="0.8" />
<line x1="582.00" y1="201.80" x2="585.40" y2="201.80" stroke="#141414" stroke-width="0.8" />
<path d="M 585.5 168.5 L 599.1 168.5 L 602.2 176.9 L 604.3 177.4 Q 605 177.6 605 178.6 L 605 189.4 Q 605 190.3 604.3 190.5 L 602.2 191 L 599.1 198.8 L 585.5 198.8 Z" stroke="#141414" stroke-width="1.35" fill="#fff" />
<path d="M 586.5 169.5 C 590 172 592.5 177 592.8 184.2 C 592.5 191 590 196 586.5 198 M 597.6 168.8 C 594.5 173 593.3 178 593.3 184.2 C 593.3 190 594.5 195 597.6 198.6 M 585.5 176.6 C 588 177.2 590.5 179.5 591 184.2 C 590.5 188.8 588 190.8 585.5 191.6 M 602.2 176.9 L 602.2 191" stroke="#141414" stroke-width="1.15" fill="none" />
<ellipse cx="595.2" cy="184.2" rx="1.5" ry="3.7" fill="none" stroke="#111" stroke-width="0.9"/>
<ellipse cx="598.8" cy="184.2" rx="1.9" ry="4.6" fill="none" stroke="#111" stroke-width="0.9"/>
<path d="M 602.2 179.5 C 600.8 181 600.8 187.5 602.2 189" stroke="#141414" stroke-width="0.8" fill="none" />
<ellipse cx="541.4" cy="425.1" rx="78.6" ry="80.4" fill="none" stroke="#0a0a0a" stroke-width="2.3"/>
<ellipse cx="541.4" cy="425.1" rx="64.0" ry="66.2" fill="none" stroke="#0c0c0c" stroke-width="1.3"/>
<line x1="460.50" y1="425.10" x2="622.20" y2="425.10" stroke="#111" stroke-width="1.25" />
<line x1="541.40" y1="342.60" x2="541.40" y2="507.60" stroke="#111" stroke-width="1.25" />
<circle cx="541.4" cy="425.1" r="42.6" fill="none" stroke="#0c0c0c" stroke-width="1.3"/>
<circle cx="541.4" cy="425.1" r="31" fill="none" stroke="#0c0c0c" stroke-width="1.3"/>
<g transform="translate(541.4 425.1) rotate(0)"><path d="M 59.2 0 C 59.2 -1.9 58.4 -2.8 57.3 -3.3 C 56 -3.9 54.5 -4.4 53 -5.1 C 51 -6 49.5 -7 48 -8 C 46 -9.5 44 -10.7 40.5 -10.8 C 33 -10.8 28.8 -6 28.8 0 C 28.8 6 33 10.8 40.5 10.8 C 44 10.7 46 9.5 48 8 C 49.5 7 51 6 53 5.1 C 54.5 4.4 56 3.9 57.3 3.3 C 58.4 2.8 59.2 1.9 59.2 0 Z" fill="#fff" stroke="#0c0c0c" stroke-width="1.4"/><path d="M 38.5 -10.6 C 35 -8 32.6 -4.5 32.6 0 C 32.6 4.5 35 8 38.5 10.6 M 42.6 -10.6 A 43 43 0 0 1 42.6 10.6" fill="none" stroke="#0c0c0c" stroke-width="1.0"/><path d="M 40.2 -10.8 L 45 -10.2 M 40.2 10.8 L 45 10.2" fill="none" stroke="#000" stroke-width="2.4"/><path d="M 56.9 0 C 56.9 -1.7 56 -2.4 54.8 -2.8 C 53 -3.3 51.5 -3.5 50 -3.8 C 46 -4.7 43.5 -5.4 41 -5.4 C 37 -5.4 34.6 -3 34.6 0 C 34.6 3 37 5.4 41 5.4 C 43.5 5.4 46 4.7 50 3.8 C 51.5 3.5 53 3.3 54.8 2.8 C 56 2.4 56.9 1.7 56.9 0 Z" fill="#fff" stroke="#0c0c0c" stroke-width="1.15"/><line x1="40" y1="0" x2="54" y2="0" stroke="#111" stroke-width="0.9"/></g>
<g transform="translate(541.4 425.1) rotate(45)"><path d="M 59.2 0 C 59.2 -1.9 58.4 -2.8 57.3 -3.3 C 56 -3.9 54.5 -4.4 53 -5.1 C 51 -6 49.5 -7 48 -8 C 46 -9.5 44 -10.7 40.5 -10.8 C 33 -10.8 28.8 -6 28.8 0 C 28.8 6 33 10.8 40.5 10.8 C 44 10.7 46 9.5 48 8 C 49.5 7 51 6 53 5.1 C 54.5 4.4 56 3.9 57.3 3.3 C 58.4 2.8 59.2 1.9 59.2 0 Z" fill="#fff" stroke="#0c0c0c" stroke-width="1.4"/><path d="M 38.5 -10.6 C 35 -8 32.6 -4.5 32.6 0 C 32.6 4.5 35 8 38.5 10.6 M 42.6 -10.6 A 43 43 0 0 1 42.6 10.6" fill="none" stroke="#0c0c0c" stroke-width="1.0"/><path d="M 40.2 -10.8 L 45 -10.2 M 40.2 10.8 L 45 10.2" fill="none" stroke="#000" stroke-width="2.4"/><path d="M 56.9 0 C 56.9 -1.7 56 -2.4 54.8 -2.8 C 53 -3.3 51.5 -3.5 50 -3.8 C 46 -4.7 43.5 -5.4 41 -5.4 C 37 -5.4 34.6 -3 34.6 0 C 34.6 3 37 5.4 41 5.4 C 43.5 5.4 46 4.7 50 3.8 C 51.5 3.5 53 3.3 54.8 2.8 C 56 2.4 56.9 1.7 56.9 0 Z" fill="#fff" stroke="#0c0c0c" stroke-width="1.15"/><line x1="40" y1="0" x2="54" y2="0" stroke="#111" stroke-width="0.9"/></g>
<g transform="translate(541.4 425.1) rotate(90)"><path d="M 59.2 0 C 59.2 -1.9 58.4 -2.8 57.3 -3.3 C 56 -3.9 54.5 -4.4 53 -5.1 C 51 -6 49.5 -7 48 -8 C 46 -9.5 44 -10.7 40.5 -10.8 C 33 -10.8 28.8 -6 28.8 0 C 28.8 6 33 10.8 40.5 10.8 C 44 10.7 46 9.5 48 8 C 49.5 7 51 6 53 5.1 C 54.5 4.4 56 3.9 57.3 3.3 C 58.4 2.8 59.2 1.9 59.2 0 Z" fill="#fff" stroke="#0c0c0c" stroke-width="1.4"/><path d="M 38.5 -10.6 C 35 -8 32.6 -4.5 32.6 0 C 32.6 4.5 35 8 38.5 10.6 M 42.6 -10.6 A 43 43 0 0 1 42.6 10.6" fill="none" stroke="#0c0c0c" stroke-width="1.0"/><path d="M 40.2 -10.8 L 45 -10.2 M 40.2 10.8 L 45 10.2" fill="none" stroke="#000" stroke-width="2.4"/><path d="M 56.9 0 C 56.9 -1.7 56 -2.4 54.8 -2.8 C 53 -3.3 51.5 -3.5 50 -3.8 C 46 -4.7 43.5 -5.4 41 -5.4 C 37 -5.4 34.6 -3 34.6 0 C 34.6 3 37 5.4 41 5.4 C 43.5 5.4 46 4.7 50 3.8 C 51.5 3.5 53 3.3 54.8 2.8 C 56 2.4 56.9 1.7 56.9 0 Z" fill="#fff" stroke="#0c0c0c" stroke-width="1.15"/><line x1="40" y1="0" x2="54" y2="0" stroke="#111" stroke-width="0.9"/></g>
<g transform="translate(541.4 425.1) rotate(135)"><path d="M 59.2 0 C 59.2 -1.9 58.4 -2.8 57.3 -3.3 C 56 -3.9 54.5 -4.4 53 -5.1 C 51 -6 49.5 -7 48 -8 C 46 -9.5 44 -10.7 40.5 -10.8 C 33 -10.8 28.8 -6 28.8 0 C 28.8 6 33 10.8 40.5 10.8 C 44 10.7 46 9.5 48 8 C 49.5 7 51 6 53 5.1 C 54.5 4.4 56 3.9 57.3 3.3 C 58.4 2.8 59.2 1.9 59.2 0 Z" fill="#fff" stroke="#0c0c0c" stroke-width="1.4"/><path d="M 38.5 -10.6 C 35 -8 32.6 -4.5 32.6 0 C 32.6 4.5 35 8 38.5 10.6 M 42.6 -10.6 A 43 43 0 0 1 42.6 10.6" fill="none" stroke="#0c0c0c" stroke-width="1.0"/><path d="M 40.2 -10.8 L 45 -10.2 M 40.2 10.8 L 45 10.2" fill="none" stroke="#000" stroke-width="2.4"/><path d="M 56.9 0 C 56.9 -1.7 56 -2.4 54.8 -2.8 C 53 -3.3 51.5 -3.5 50 -3.8 C 46 -4.7 43.5 -5.4 41 -5.4 C 37 -5.4 34.6 -3 34.6 0 C 34.6 3 37 5.4 41 5.4 C 43.5 5.4 46 4.7 50 3.8 C 51.5 3.5 53 3.3 54.8 2.8 C 56 2.4 56.9 1.7 56.9 0 Z" fill="#fff" stroke="#0c0c0c" stroke-width="1.15"/><line x1="40" y1="0" x2="54" y2="0" stroke="#111" stroke-width="0.9"/></g>
<g transform="translate(541.4 425.1) rotate(180)"><path d="M 59.2 0 C 59.2 -1.9 58.4 -2.8 57.3 -3.3 C 56 -3.9 54.5 -4.4 53 -5.1 C 51 -6 49.5 -7 48 -8 C 46 -9.5 44 -10.7 40.5 -10.8 C 33 -10.8 28.8 -6 28.8 0 C 28.8 6 33 10.8 40.5 10.8 C 44 10.7 46 9.5 48 8 C 49.5 7 51 6 53 5.1 C 54.5 4.4 56 3.9 57.3 3.3 C 58.4 2.8 59.2 1.9 59.2 0 Z" fill="#fff" stroke="#0c0c0c" stroke-width="1.4"/><path d="M 38.5 -10.6 C 35 -8 32.6 -4.5 32.6 0 C 32.6 4.5 35 8 38.5 10.6 M 42.6 -10.6 A 43 43 0 0 1 42.6 10.6" fill="none" stroke="#0c0c0c" stroke-width="1.0"/><path d="M 40.2 -10.8 L 45 -10.2 M 40.2 10.8 L 45 10.2" fill="none" stroke="#000" stroke-width="2.4"/><path d="M 56.9 0 C 56.9 -1.7 56 -2.4 54.8 -2.8 C 53 -3.3 51.5 -3.5 50 -3.8 C 46 -4.7 43.5 -5.4 41 -5.4 C 37 -5.4 34.6 -3 34.6 0 C 34.6 3 37 5.4 41 5.4 C 43.5 5.4 46 4.7 50 3.8 C 51.5 3.5 53 3.3 54.8 2.8 C 56 2.4 56.9 1.7 56.9 0 Z" fill="#fff" stroke="#0c0c0c" stroke-width="1.15"/><line x1="40" y1="0" x2="54" y2="0" stroke="#111" stroke-width="0.9"/></g>
<g transform="translate(541.4 425.1) rotate(225)"><path d="M 59.2 0 C 59.2 -1.9 58.4 -2.8 57.3 -3.3 C 56 -3.9 54.5 -4.4 53 -5.1 C 51 -6 49.5 -7 48 -8 C 46 -9.5 44 -10.7 40.5 -10.8 C 33 -10.8 28.8 -6 28.8 0 C 28.8 6 33 10.8 40.5 10.8 C 44 10.7 46 9.5 48 8 C 49.5 7 51 6 53 5.1 C 54.5 4.4 56 3.9 57.3 3.3 C 58.4 2.8 59.2 1.9 59.2 0 Z" fill="#fff" stroke="#0c0c0c" stroke-width="1.4"/><path d="M 38.5 -10.6 C 35 -8 32.6 -4.5 32.6 0 C 32.6 4.5 35 8 38.5 10.6 M 42.6 -10.6 A 43 43 0 0 1 42.6 10.6" fill="none" stroke="#0c0c0c" stroke-width="1.0"/><path d="M 40.2 -10.8 L 45 -10.2 M 40.2 10.8 L 45 10.2" fill="none" stroke="#000" stroke-width="2.4"/><path d="M 56.9 0 C 56.9 -1.7 56 -2.4 54.8 -2.8 C 53 -3.3 51.5 -3.5 50 -3.8 C 46 -4.7 43.5 -5.4 41 -5.4 C 37 -5.4 34.6 -3 34.6 0 C 34.6 3 37 5.4 41 5.4 C 43.5 5.4 46 4.7 50 3.8 C 51.5 3.5 53 3.3 54.8 2.8 C 56 2.4 56.9 1.7 56.9 0 Z" fill="#fff" stroke="#0c0c0c" stroke-width="1.15"/><line x1="40" y1="0" x2="54" y2="0" stroke="#111" stroke-width="0.9"/></g>
<g transform="translate(541.4 425.1) rotate(270)"><path d="M 59.2 0 C 59.2 -1.9 58.4 -2.8 57.3 -3.3 C 56 -3.9 54.5 -4.4 53 -5.1 C 51 -6 49.5 -7 48 -8 C 46 -9.5 44 -10.7 40.5 -10.8 C 33 -10.8 28.8 -6 28.8 0 C 28.8 6 33 10.8 40.5 10.8 C 44 10.7 46 9.5 48 8 C 49.5 7 51 6 53 5.1 C 54.5 4.4 56 3.9 57.3 3.3 C 58.4 2.8 59.2 1.9 59.2 0 Z" fill="#fff" stroke="#0c0c0c" stroke-width="1.4"/><path d="M 38.5 -10.6 C 35 -8 32.6 -4.5 32.6 0 C 32.6 4.5 35 8 38.5 10.6 M 42.6 -10.6 A 43 43 0 0 1 42.6 10.6" fill="none" stroke="#0c0c0c" stroke-width="1.0"/><path d="M 40.2 -10.8 L 45 -10.2 M 40.2 10.8 L 45 10.2" fill="none" stroke="#000" stroke-width="2.4"/><path d="M 56.9 0 C 56.9 -1.7 56 -2.4 54.8 -2.8 C 53 -3.3 51.5 -3.5 50 -3.8 C 46 -4.7 43.5 -5.4 41 -5.4 C 37 -5.4 34.6 -3 34.6 0 C 34.6 3 37 5.4 41 5.4 C 43.5 5.4 46 4.7 50 3.8 C 51.5 3.5 53 3.3 54.8 2.8 C 56 2.4 56.9 1.7 56.9 0 Z" fill="#fff" stroke="#0c0c0c" stroke-width="1.15"/><line x1="40" y1="0" x2="54" y2="0" stroke="#111" stroke-width="0.9"/></g>
<g transform="translate(541.4 425.1) rotate(315)"><path d="M 59.2 0 C 59.2 -1.9 58.4 -2.8 57.3 -3.3 C 56 -3.9 54.5 -4.4 53 -5.1 C 51 -6 49.5 -7 48 -8 C 46 -9.5 44 -10.7 40.5 -10.8 C 33 -10.8 28.8 -6 28.8 0 C 28.8 6 33 10.8 40.5 10.8 C 44 10.7 46 9.5 48 8 C 49.5 7 51 6 53 5.1 C 54.5 4.4 56 3.9 57.3 3.3 C 58.4 2.8 59.2 1.9 59.2 0 Z" fill="#fff" stroke="#0c0c0c" stroke-width="1.4"/><path d="M 38.5 -10.6 C 35 -8 32.6 -4.5 32.6 0 C 32.6 4.5 35 8 38.5 10.6 M 42.6 -10.6 A 43 43 0 0 1 42.6 10.6" fill="none" stroke="#0c0c0c" stroke-width="1.0"/><path d="M 40.2 -10.8 L 45 -10.2 M 40.2 10.8 L 45 10.2" fill="none" stroke="#000" stroke-width="2.4"/><path d="M 56.9 0 C 56.9 -1.7 56 -2.4 54.8 -2.8 C 53 -3.3 51.5 -3.5 50 -3.8 C 46 -4.7 43.5 -5.4 41 -5.4 C 37 -5.4 34.6 -3 34.6 0 C 34.6 3 37 5.4 41 5.4 C 43.5 5.4 46 4.7 50 3.8 C 51.5 3.5 53 3.3 54.8 2.8 C 56 2.4 56.9 1.7 56.9 0 Z" fill="#fff" stroke="#0c0c0c" stroke-width="1.15"/><line x1="40" y1="0" x2="54" y2="0" stroke="#111" stroke-width="0.9"/></g>
<circle cx="541.4" cy="425.1" r="9.2" fill="#fff" stroke="#0c0c0c" stroke-width="1.2"/>
<circle cx="541.4" cy="425.1" r="6.8" fill="#0a0a0a"/>
<line x1="541.40" y1="425.10" x2="616.40" y2="501.60" stroke="#111" stroke-width="1.25" />
<text x="619.00" y="511.50" font-size="17" text-anchor="start" font-weight="bold" fill="#111" >M14x2-6g</text>
<line x1="462.50" y1="316.30" x2="462.50" y2="425.00" stroke="#141414" stroke-width="0.8" />
<line x1="620.20" y1="316.30" x2="620.20" y2="425.00" stroke="#141414" stroke-width="0.8" />
<line x1="462.50" y1="322.00" x2="620.20" y2="322.00" stroke="#141414" stroke-width="0.8" />
<polygon points="462.50,322.00 478.50,319.50 478.50,324.50" fill="#111"/>
<polygon points="620.20,322.00 604.20,324.50 604.20,319.50" fill="#111"/>
<text x="514.80" y="318.00" font-size="15.5" text-anchor="start" font-weight="normal" fill="#222" font-style="italic">Ø</text>
<text x="531.40" y="318.00" font-size="16.2" text-anchor="start" font-weight="normal" fill="#222" letter-spacing="-0.3" >168</text>
</svg>
</body></html>
